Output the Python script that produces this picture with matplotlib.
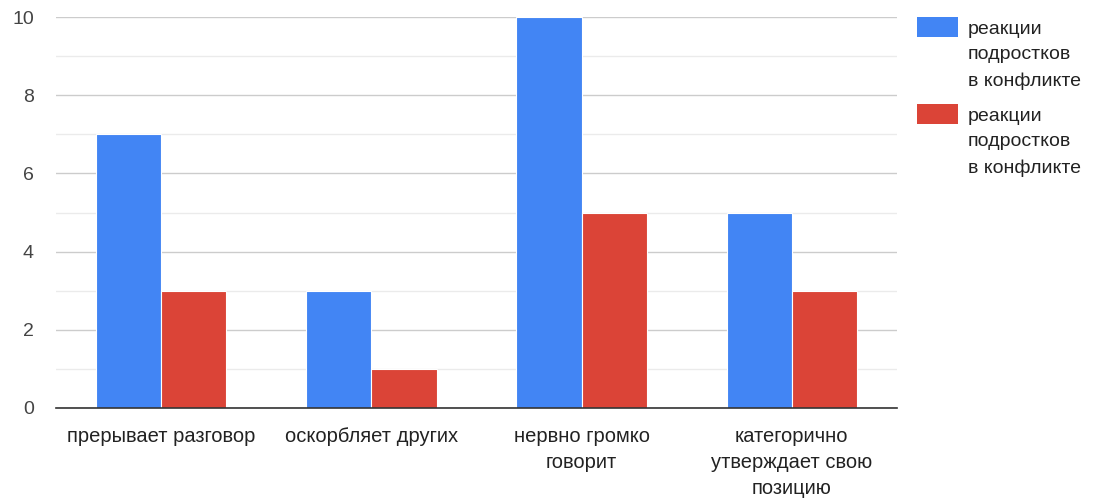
import numpy as np
import matplotlib.pyplot as plt
from matplotlib.patches import Rectangle

plt.rcParams['font.family'] = ['Liberation Sans', 'DejaVu Sans']

categories = ["прерывает разговор", "оскорбляет других", "нервно громко\nговорит",
              "категорично\nутверждает свою\nпозицию"]
series_1 = [7, 3, 10, 5]
series_2 = [3, 1, 5, 3]
series_labels = ["реакции\nподростков\nв конфликте", "реакции\nподростков\nв конфликте"]
colors = ["#4285f4", "#db4437"]

fig = plt.figure(figsize=(11.09, 4.98), dpi=100)
ax = fig.add_axes([56 / 1109, 1 - 408 / 498, 841 / 1109, 391 / 498])

x = np.arange(len(categories))
w = 0.31
ax.bar(x - w / 2, series_1, width=w, color=colors[0], edgecolor="white", linewidth=0.8, zorder=3)
ax.bar(x + w / 2, series_2, width=w, color=colors[1], edgecolor="white", linewidth=0.8, zorder=3)

ax.set_xlim(-0.5, 3.5)
ax.set_ylim(0, 10)
ax.set_yticks([0, 2, 4, 6, 8, 10])
ax.set_yticks([1, 3, 5, 7, 9], minor=True)
ax.grid(axis="y", which="major", color="#cccccc", linewidth=1, zorder=0)
ax.grid(axis="y", which="minor", color="#ebebeb", linewidth=1, zorder=0)
ax.set_xticks(x)
ax.set_xticklabels(categories, fontsize=14.5, color="#222222", linespacing=1.45)
ax.tick_params(axis="x", length=0, pad=14)
ax.tick_params(axis="y", which="both", length=0, pad=16, labelsize=14, labelcolor="#444444")

for s in ["top", "right", "left"]:
    ax.spines[s].set_visible(False)
ax.spines["bottom"].set_color("#333333")
ax.spines["bottom"].set_linewidth(1.2)
ax.spines["bottom"].set_zorder(4)

# legend, drawn by hand so the swatch lines up with the first text line
W, H = 1109, 498
for i, (lab, c) in enumerate(zip(series_labels, colors)):
    top = 17 + i * 87
    fig.patches.append(Rectangle((917 / W, 1 - (top + 20) / H), 41 / W, 20 / H,
                                 transform=fig.transFigure, facecolor=c, edgecolor="none"))
    fig.text(968 / W, 1 - (top + 4) / H, lab, ha="left", va="top", fontsize=14,
             color="#222222", linespacing=1.65)

fig.savefig("out.png", dpi=100, facecolor="white")
